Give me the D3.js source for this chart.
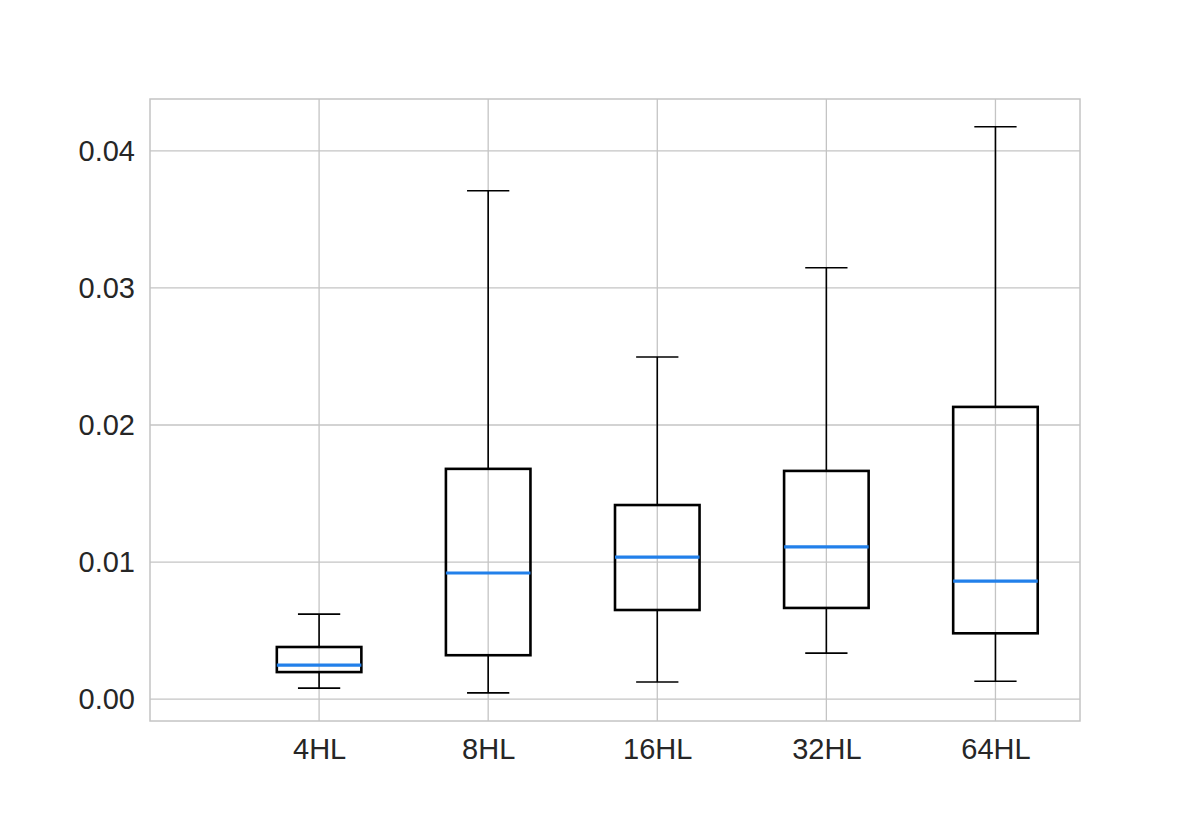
<!DOCTYPE html>
<html><head><meta charset="utf-8">
<script src="https://cdn.jsdelivr.net/npm/d3@7"></script>
<style>body{margin:0;background:#fff}</style>
</head><body>
<script>
const categories = ["4HL","8HL","16HL","32HL","64HL"];
const whiskerLow  = [0.0008, 0.00045, 0.00125, 0.00335, 0.0013];
const q1          = [0.00197, 0.0032, 0.0065, 0.00665, 0.0048];
const median      = [0.00248, 0.0092, 0.01036, 0.0111, 0.0086];
const q3          = [0.0038, 0.0168, 0.01416, 0.01665, 0.02132];
const whiskerHigh = [0.0062, 0.0371, 0.02496, 0.03148, 0.04176];
const yTicks = [0, 0.01, 0.02, 0.03, 0.04];

const W=1200,H=825, L=150,R=1080,T=99,B=721;
const svg=d3.select("body").append("svg").attr("width",W).attr("height",H);
const x=d3.scaleLinear().domain([0,5.5]).range([L,R]);
const y=d3.scaleLinear().domain([-0.0016,0.04379]).range([B,T]);
const grid="#c4c4c4";
const FS=29;
// grid
svg.append("g").selectAll("line").data(yTicks).join("line")
 .attr("x1",L).attr("x2",R).attr("y1",d=>y(d)).attr("y2",d=>y(d))
 .attr("stroke",grid).attr("stroke-width",1.3);
svg.append("g").selectAll("line").data(categories).join("line")
 .attr("x1",(d,i)=>x(i+1)).attr("x2",(d,i)=>x(i+1)).attr("y1",T).attr("y2",B)
 .attr("stroke",grid).attr("stroke-width",1.3);
// frame
svg.append("rect").attr("x",L).attr("y",T).attr("width",R-L).attr("height",B-T)
 .attr("fill","none").attr("stroke",grid).attr("stroke-width",1.5);
// axes labels
const yAxis=d3.axisLeft(y).tickValues(yTicks).tickFormat(d3.format(".2f")).tickSize(0).tickPadding(15);
const ga=svg.append("g").attr("transform",`translate(${L},0)`).call(yAxis);
ga.select(".domain").remove();
ga.attr("font-size",FS);
ga.selectAll("text").attr("font-family","Liberation Sans, Arial, sans-serif").attr("font-size",FS).attr("fill","#262626");
const xAxis=d3.axisBottom(x).tickValues([1,2,3,4,5]).tickFormat((d)=>categories[d-1]).tickSize(0).tickPadding(17);
const gx=svg.append("g").attr("transform",`translate(0,${B})`).call(xAxis);
gx.select(".domain").remove();
gx.attr("font-size",FS);
gx.selectAll("text").attr("font-family","Liberation Sans, Arial, sans-serif").attr("font-size",FS).attr("fill","#262626");

const bw=0.5, cw=0.25;
const g=svg.append("g");
categories.forEach((c,i)=>{
  const p=i+1;
  // whiskers
  g.append("line").attr("x1",x(p)).attr("x2",x(p)).attr("y1",y(q1[i])).attr("y2",y(whiskerLow[i])).attr("stroke","#000").attr("stroke-width",1.6);
  g.append("line").attr("x1",x(p)).attr("x2",x(p)).attr("y1",y(q3[i])).attr("y2",y(whiskerHigh[i])).attr("stroke","#000").attr("stroke-width",1.6);
  g.append("line").attr("x1",x(p-cw/2)).attr("x2",x(p+cw/2)).attr("y1",y(whiskerLow[i])).attr("y2",y(whiskerLow[i])).attr("stroke","#000").attr("stroke-width",1.6);
  g.append("line").attr("x1",x(p-cw/2)).attr("x2",x(p+cw/2)).attr("y1",y(whiskerHigh[i])).attr("y2",y(whiskerHigh[i])).attr("stroke","#000").attr("stroke-width",1.6);
  // box
  g.append("rect").attr("x",x(p-bw/2)).attr("width",x(p+bw/2)-x(p-bw/2))
   .attr("y",y(q3[i])).attr("height",y(q1[i])-y(q3[i]))
   .attr("fill","none").attr("stroke","#000").attr("stroke-width",2.6);
  g.append("line").attr("x1",x(p-bw/2)).attr("x2",x(p+bw/2)).attr("y1",y(median[i])).attr("y2",y(median[i]))
   .attr("stroke","#2280ea").attr("stroke-width",3.2);
});
</script>
</body></html>
